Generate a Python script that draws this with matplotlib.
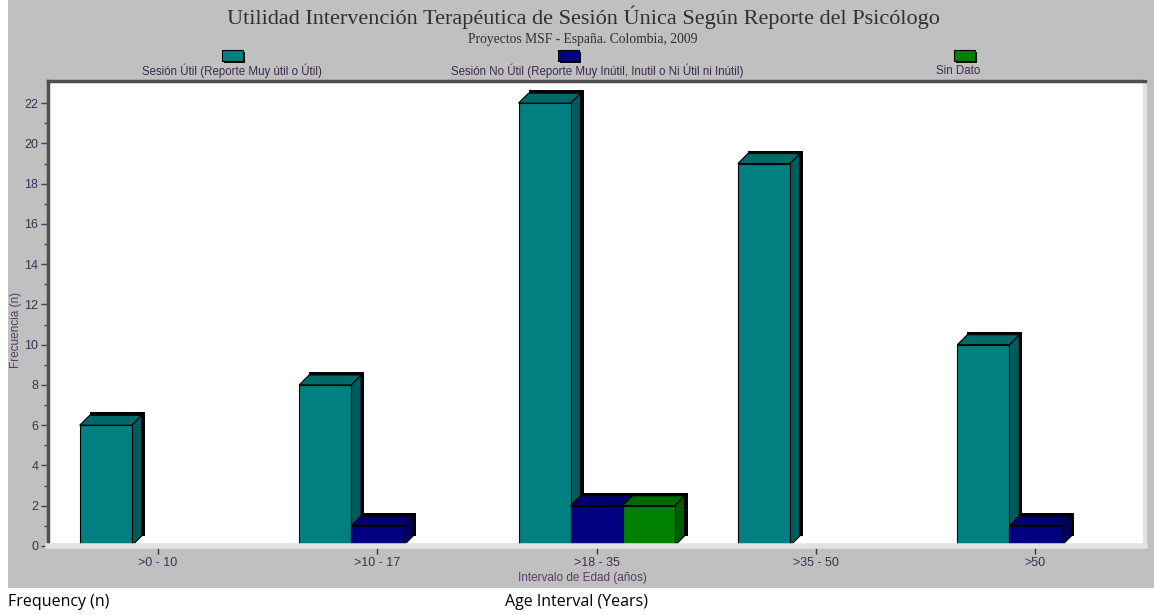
import numpy as np
import matplotlib
matplotlib.use("Agg")
import matplotlib.pyplot as plt
from matplotlib.patches import Rectangle, Polygon

# --- data -------------------------------------------------------------
categories = [">0 - 10", ">10 - 17", ">18 - 35", ">35 - 50", ">50"]
series_names = ["Sesión Útil (Reporte Muy útil o Útil)",
                "Sesión No Útil (Reporte Muy Inútil, Inutil o Ni Útil ni Inútil)",
                "Sin Dato"]
util     = [6, 8, 22, 19, 10]
no_util  = [0, 1, 2, 0, 1]
sin_dato = [0, 0, 2, 0, 0]

front = ["#008080", "#000080", "#008000"]
side  = ["#005c5c", "#00005c", "#005c00"]
top   = ["#006a6a", "#00006a", "#006a00"]

W, H = 1154, 615
fig = plt.figure(figsize=(W / 100, H / 100), dpi=100)
fig.patch.set_facecolor("white")

# grey panel behind everything
fig.patches.append(Rectangle((8 / W, 1 - 588 / H), 1 - 8 / W, 588 / H,
                             transform=fig.transFigure, facecolor="#c0c0c0",
                             edgecolor="none", zorder=-10))

ax_l, ax_r, ax_t, ax_b = 48, 1145, 81, 546
ax = fig.add_axes([ax_l / W, 1 - ax_b / H, (ax_r - ax_l) / W, (ax_b - ax_t) / H])
ax.set_facecolor("white")
xmin, xmax, ymin, ymax = -0.5, 4.5, 0, 23.1
ax.set_xlim(xmin, xmax)
ax.set_ylim(ymin, ymax)

# pixel -> data unit conversion for the fake 3d depth
ux = (ax_r - ax_l) / (xmax - xmin)
uy = (ax_b - ax_t) / (ymax - ymin)
dx, dy = 10 / ux, 10 / uy
sx, sy = 3 / ux, 3 / uy
bw = 52 / ux

def bar3d(x0, h, k):
    if h <= 0:
        return
    x1 = x0 + bw
    ax.add_patch(Rectangle((x0 + dx, dy), bw + sx, h + sy,
                           facecolor="black", edgecolor="none", zorder=2))
    ax.add_patch(Polygon([(x1, 0), (x1 + dx, dy), (x1 + dx, h + dy), (x1, h)],
                         facecolor=side[k], edgecolor="black", lw=0.8, zorder=2))
    ax.add_patch(Polygon([(x0, h), (x0 + dx, h + dy), (x1 + dx, h + dy), (x1, h)],
                         facecolor=top[k], edgecolor="black", lw=0.8, zorder=2))
    ax.add_patch(Rectangle((x0, 0), bw, h, facecolor=front[k],
                           edgecolor="black", lw=0.8, zorder=2))

for i in range(len(categories)):
    for k, vals in enumerate([util, no_util, sin_dato]):
        bar3d(i - 1.5 * bw + k * bw, vals[i], k)

# axes styling
for s in ["left", "top"]:
    ax.spines[s].set_color("#505050")
    ax.spines[s].set_linewidth(2.5)
ax.spines["bottom"].set_color("#e2e2e2")
ax.spines["bottom"].set_linewidth(4)
ax.spines["right"].set_color("#e2e2e2")
ax.spines["right"].set_linewidth(3)

lab_col = "#3c2f50"
ax.set_yticks(np.arange(0, 23, 2))
ax.set_yticks(np.arange(0, 23, 1), minor=True)
ax.tick_params(axis="y", which="major", length=5, width=1, color="#404040",
               labelsize=9, labelcolor=lab_col, pad=2)
ax.tick_params(axis="y", which="minor", length=3, width=1, color="#404040")
ax.set_xticks(range(len(categories)))
ax.set_xticklabels(categories, fontsize=9, color=lab_col)
ax.tick_params(axis="x", length=6, width=1, color="#333333", pad=2,
               direction="out")
for lab in ax.get_xticklabels() + ax.get_yticklabels():
    lab.set_family("Liberation Sans")

ax.set_ylabel("Frecuencia (n)", fontsize=8.5, color="#5a3a6a",
              family="Liberation Sans")
ax.yaxis.set_label_coords(-0.024, (546 - 330) / (546 - 81))
ax.set_xlabel("Intervalo de Edad (años)", fontsize=8.5, color="#5a3a6a",
              family="Liberation Sans")
ax.xaxis.set_label_coords(0.487, -(578 - 546) / (546 - 81))
ax.xaxis.label.set_va("center")

# titles
fig.text(583 / W, 1 - 17 / H,
         "Utilidad Intervención Terapéutica de Sesión Única Según Reporte del Psicólogo",
         ha="center", va="center", fontsize=16, family="Liberation Serif",
         color="#303030")
fig.text(583 / W, 1 - 39 / H, "Proyectos MSF - España. Colombia, 2009",
         ha="center", va="center", fontsize=9.8, family="Liberation Serif",
         color="#303030")

# legend
leg_x = [233, 569, 965]
lab_x = [232, 597, 958]
for k in range(3):
    fig.patches.append(Rectangle(((leg_x[k] - 9) / W, 1 - 63 / H), 21 / W, 11 / H,
                                 transform=fig.transFigure, facecolor="black",
                                 edgecolor="none"))
    fig.patches.append(Rectangle(((leg_x[k] - 11) / W, 1 - 61 / H), 21 / W, 11 / H,
                                 transform=fig.transFigure, facecolor=front[k],
                                 edgecolor="black", lw=0.8))
    fig.text(lab_x[k] / W, 1 - 71 / H, series_names[k], ha="center", va="center",
             fontsize=8.3, family="Liberation Sans", color="#3a2a4a")

# english captions below the panel
fig.text(8 / W, 1 - 602 / H, "Frequency (n)", ha="left", va="center",
         fontsize=11.5, family="Open Sans", color="black")
fig.text(505 / W, 1 - 602 / H, "Age Interval (Years)", ha="left", va="center",
         fontsize=11.5, family="Open Sans", color="black")

fig.savefig("out.png", dpi=100, facecolor=fig.get_facecolor())
